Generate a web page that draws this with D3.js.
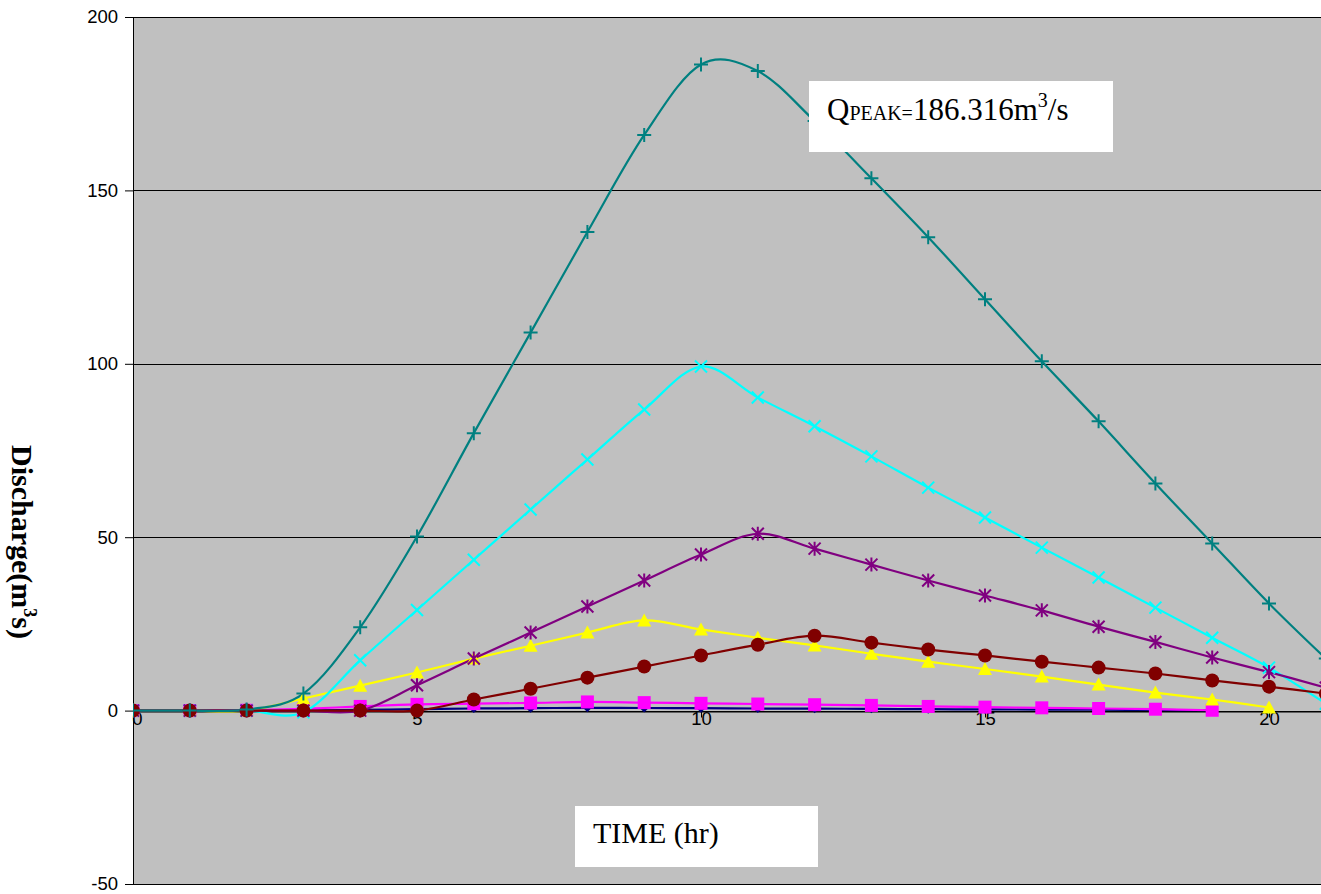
<!DOCTYPE html>
<html><head><meta charset="utf-8">
<script src="https://cdn.jsdelivr.net/npm/d3@7"></script>
<style>body{margin:0;background:#fff;}svg{display:block;}</style>
</head><body>
<script>
const hours = d3.range(0, 22);
const yTicks = [-50, 0, 50, 100, 150, 200];
const xTicks = [0, 5, 10, 15, 20];
// Series (Excel default order)
const sNavy    = [0,0,0,0,0.2,0.4,0.6,0.7,0.8,0.75,0.7,0.6,0.55,0.5,0.4,0.35,0.3,0.25,0.2,0.1];
const sMagenta = [0,0,0.1,0.5,1.2,1.8,2.0,2.2,2.5,2.3,2.1,1.9,1.7,1.5,1.2,1.0,0.8,0.6,0.4,0.1];
const sYellow  = [0,0,0,3.5,7.2,11,15,18.7,22.5,26,23.4,21,18.8,16.4,14.1,12,9.8,7.5,5.2,3.2,0.9];
const sCyan    = [0,0,0,-0.5,14.5,29,43.5,58,72.4,86.8,99.2,90.3,82,73.3,64.3,55.7,47,38.4,29.7,21,12.4,2];
const sPurple  = [0,0,0,0,0,7.3,15,22.5,30,37.5,45,51,46.7,42.1,37.5,33.2,28.9,24.2,19.8,15.3,11.1,6.6];
const sMaroon  = [0,0,0,0,0,0,3.2,6.3,9.5,12.7,15.9,19,21.6,19.6,17.6,15.9,14.1,12.4,10.7,8.7,6.9,4.9];
const sTeal    = [0,0,0.3,4.9,24,50.2,80,109,138,166,186.316,184.4,170,153.5,136.5,118.6,100.7,83.4,65.5,48.2,30.9,15];

const series = [
  {name:"navy", color:"#000080", marker:"diamond", values:sNavy},
  {name:"magenta", color:"#FF00FF", marker:"square", values:sMagenta},
  {name:"yellow", color:"#FFFF00", marker:"triangle", values:sYellow},
  {name:"cyan", color:"#00FFFF", marker:"x", values:sCyan},
  {name:"purple", color:"#800080", marker:"star", values:sPurple},
  {name:"maroon", color:"#800000", marker:"circle", values:sMaroon},
  {name:"teal", color:"#008080", marker:"plus", values:sTeal}
];

const W = 1321, H = 894;
const pLeft = 133, pTop = 17, pBottom = 884;
const unit = 56.8;
const x = d3.scaleLinear().domain([0, 25]).range([pLeft, pLeft + 25 * unit]);
const y = d3.scaleLinear().domain([-50, 200]).range([pBottom, pTop]);

const svg = d3.select("body").append("svg").attr("width", W).attr("height", H);

svg.append("defs").append("clipPath").attr("id","plotclip")
  .append("rect").attr("x", pLeft).attr("y", pTop - 10).attr("width", W - pLeft).attr("height", pBottom - pTop + 20);

svg.append("rect").attr("x", pLeft).attr("y", pTop).attr("width", W - pLeft).attr("height", pBottom - pTop).attr("fill", "#C0C0C0");

// gridlines
svg.append("g").selectAll("line").data(yTicks).join("line")
  .attr("x1", pLeft).attr("x2", W).attr("y1", d => Math.round(y(d)) + 0.5).attr("y2", d => Math.round(y(d)) + 0.5)
  .attr("stroke", "#000").attr("stroke-width", 1);

// y axis
const ya = svg.append("g").attr("transform", `translate(${pLeft},0)`)
  .call(d3.axisLeft(y).tickValues(yTicks).tickFormat(d => String(d)).tickSize(8).tickSizeOuter(0).tickPadding(7));
ya.selectAll("text").attr("font-family", "Liberation Sans, Arial, sans-serif").attr("font-size", 18.5).attr("fill", "#000");
ya.selectAll("line,path").attr("stroke", "#000");

// x axis at zero
const xa = svg.append("g").attr("transform", `translate(0,${Math.round(y(0)) + 0.5})`)
  .call(d3.axisBottom(x).tickValues(xTicks).tickFormat(d => String(d)).tickSize(6).tickSizeOuter(0).tickPadding(-6));
xa.selectAll("text").attr("font-family", "Liberation Sans, Arial, sans-serif").attr("font-size", 18.5).attr("fill", "#000")
  .attr("dx", d => d === 0 ? 4 : 0);
xa.selectAll("line,path").attr("stroke", "#000");

const plot = svg.append("g").attr("clip-path", "url(#plotclip)");
const line = d3.line().x((d, i) => x(hours[i])).y(d => y(d)).curve(d3.curveCardinal.tension(0));

series.forEach(s => {
  plot.append("path").datum(s.values).attr("d", line).attr("fill", "none")
    .attr("stroke", s.color).attr("stroke-width", 2.2);
});

function markerPath(type) {
  switch (type) {
    case "plus": return "M-7,0H7M0,-7V7";
    case "x": return "M-6,-6L6,6M-6,6L6,-6";
    case "star": return "M-6,-6L6,6M-6,6L6,-6M0,-7V7";
    case "square": return "M-6.5,-6.5H6.5V6.5H-6.5Z";
    case "triangle": return "M0,-7L7,6H-7Z";
    case "diamond": return "M0,-4.5L4.5,0L0,4.5L-4.5,0Z";
    case "circle": return "M7,0A7,7 0 1 1 -7,0A7,7 0 1 1 7,0Z";
  }
}

series.forEach(s => {
  const lineMarker = ["plus","x","star"].includes(s.marker);
  plot.append("g").selectAll("path").data(s.values).join("path")
    .attr("transform", (d, i) => `translate(${x(hours[i])},${y(d)})`)
    .attr("d", markerPath(s.marker))
    .attr("fill", lineMarker ? "none" : s.color)
    .attr("stroke", s.color)
    .attr("stroke-width", lineMarker ? 2 : 0);
});

// Q peak box
svg.append("rect").attr("x", 809).attr("y", 81).attr("width", 304).attr("height", 71).attr("fill", "#fff");
const qt = svg.append("text").attr("x", 827).attr("y", 120)
  .attr("font-family", "Liberation Serif, Times New Roman, serif").attr("font-size", 31).attr("fill", "#000");
qt.append("tspan").text("Q");
qt.append("tspan").attr("font-size", 20).text("PEAK=");
qt.append("tspan").text("186.316m");
qt.append("tspan").attr("font-size", 20).attr("dy", -13).text("3");
qt.append("tspan").attr("dy", 13).text("/s");

// TIME box
svg.append("rect").attr("x", 575).attr("y", 806).attr("width", 243).attr("height", 61).attr("fill", "#fff");
svg.append("text").attr("x", 593).attr("y", 843)
  .attr("font-family", "Liberation Serif, Times New Roman, serif").attr("font-size", 30).attr("fill", "#000")
  .text("TIME (hr)");

// Y label
const yl = svg.append("text").attr("transform", "translate(12,542) rotate(90)")
  .attr("text-anchor", "middle")
  .attr("font-family", "Liberation Serif, Times New Roman, serif").attr("font-weight", "bold").attr("font-size", 30).attr("fill", "#000");
yl.append("tspan").text("Discharge(m");
yl.append("tspan").attr("font-size", 18).attr("dy", -12).text("3");
yl.append("tspan").attr("dy", 12).text("s)");
</script>
</body></html>
